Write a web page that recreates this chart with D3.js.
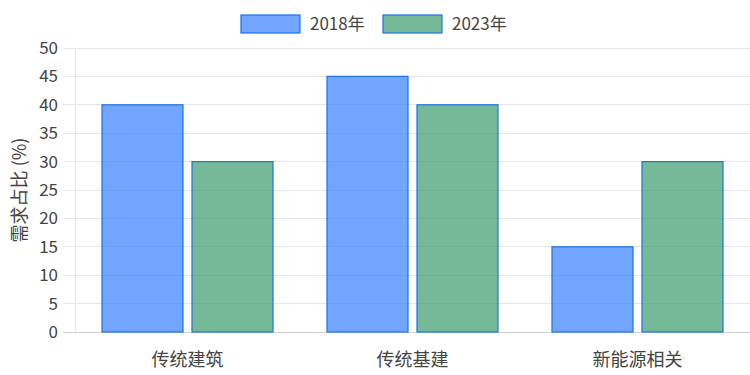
<!DOCTYPE html>
<html>
<head>
<meta charset="utf-8">
<script src="https://cdn.jsdelivr.net/npm/d3@7"></script>
<style>
body{margin:0;background:#fff;}
text{font-family:"Noto Sans CJK SC","Noto Sans",sans-serif;}
</style>
</head>
<body>
<script>
var categories=["传统建筑","传统基建","新能源相关"]
var seriesNames=["2018年","2023年"]
var values2018=[40,45,15]
var values2023=[30,40,30]
var yTicks=[0,5,10,15,20,25,30,35,40,45,50]
var fills=["rgba(66,135,255,0.75)","rgba(60,155,110,0.7)"]
var stroke="#1a73e8"

var width=750,height=375
var margin={left:75,right:0,top:48,bottom:43}
var svg=d3.select("body").append("svg").attr("width",width).attr("height",height)

var x=d3.scaleBand().domain(categories).range([margin.left,width-margin.right])
var y=d3.scaleLinear().domain([0,50]).range([height-margin.bottom,margin.top])

// grid
svg.append("g").selectAll("line").data(yTicks).enter().append("line")
  .attr("x1",margin.left-12).attr("x2",width)
  .attr("y1",function(d){return y(d)}).attr("y2",function(d){return y(d)})
  .attr("stroke",function(d){return d==0?"#d0d0d0":"#e6e6e6"}).attr("stroke-width",1)
  .attr("shape-rendering","crispEdges")
svg.append("line").attr("x1",margin.left).attr("x2",margin.left)
  .attr("y1",margin.top).attr("y2",y(0)).attr("stroke","#e6e6e6").attr("shape-rendering","crispEdges")

svg.append("g").selectAll("text").data(yTicks).enter().append("text")
  .attr("x",margin.left-17).attr("y",function(d){return y(d)}).attr("dy","0.35em")
  .attr("text-anchor","end").attr("font-size",17).attr("fill","#444")
  .text(function(d){return d})

svg.append("text").attr("transform","translate(20,"+((margin.top+y(0))/2)+") rotate(-90)")
  .attr("text-anchor","middle").attr("dy","0.35em").attr("font-size",18).attr("fill","#444").text("需求占比 (%)")

// bars
var inner=d3.scaleBand().domain(seriesNames).range([0,x.bandwidth()*0.8])
var series=[values2018,values2023]
series.forEach(function(vals,si){
  svg.append("g").selectAll("rect").data(vals).enter().append("rect")
    .attr("x",function(d,i){return x(categories[i])+x.bandwidth()*0.1+inner(seriesNames[si])+inner.bandwidth()*0.05})
    .attr("width",inner.bandwidth()*0.9)
    .attr("y",function(d){return y(d)})
    .attr("height",function(d){return y(0)-y(d)})
    .attr("fill",fills[si]).attr("stroke",stroke).attr("stroke-width",1.2)
})

svg.append("g").selectAll("text").data(categories).enter().append("text")
  .attr("x",function(d){return x(d)+x.bandwidth()/2}).attr("y",y(0)+28)
  .attr("dy","0.35em").attr("text-anchor","middle").attr("font-size",18).attr("fill","#444")
  .text(function(d){return d})

// legend
var legendX=[241,383]
seriesNames.forEach(function(n,i){
  svg.append("rect").attr("x",legendX[i]).attr("y",15).attr("width",59).attr("height",18)
    .attr("fill",fills[i]).attr("stroke",stroke).attr("stroke-width",1.2)
  svg.append("text").attr("x",legendX[i]+69).attr("y",24).attr("dy","0.35em")
    .attr("font-size",17).attr("fill","#444").text(n)
})
</script>
</body>
</html>
